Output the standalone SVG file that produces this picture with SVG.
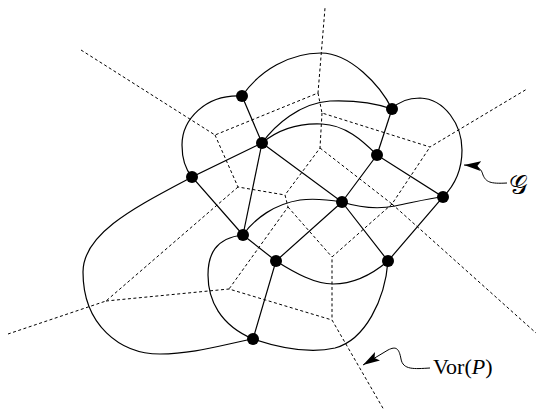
<svg xmlns="http://www.w3.org/2000/svg" width="536" height="410" viewBox="0 0 536 410">
<style>
.vor{fill:none;stroke:#000;stroke-width:1;stroke-dasharray:3 2.5}
.edge{fill:none;stroke:#000;stroke-width:1.2}
.node{fill:#000}
.lbl{font-family:"Liberation Serif","DejaVu Serif",serif;font-size:22px;fill:#000}
.ptr{fill:none;stroke:#000;stroke-width:1}
</style>
<defs>
<marker id="ah" viewBox="0 0 18 12" refX="17" refY="6" markerWidth="18" markerHeight="12" markerUnits="userSpaceOnUse" orient="auto">
<path d="M0,1 L17,6 L0,11 L3.5,6 Z" fill="#000"/>
</marker>
</defs>
<g id="voronoi">
<path class="vor" d="M81,50 L215,135 L318,93 L325,8"/>
<path class="vor" d="M318,93 L322,113 L430,147 L527,89"/>
<path class="vor" d="M322,113 L320,148 L285,195"/>
<path class="vor" d="M320,148 L392,204 L430,147"/>
<path class="vor" d="M392,204 L536,333"/>
<path class="vor" d="M392,204 L332,257 L332,320 L384,410"/>
<path class="vor" d="M215,135 L238,187 L285,195 L288,207 L229,289"/>
<path class="vor" d="M288,207 L332,257"/>
<path class="vor" d="M238,187 L106,301 L8,334"/>
<path class="vor" d="M106,301 L229,289 L332,320"/>
</g>
<g id="connectors">
<path class="edge" d="M242,96 C260,70 290,53 321,53 C350,53 380,85 392,109"/>
<path class="edge" d="M242,96 C205,94 182,120 182,145 C182,160 186,170 192,177"/>
<path class="edge" d="M262,143 C275,125 300,103 330,101 C358,100 378,104 392,109"/>
<path class="edge" d="M262,143 C280,128 300,123 322,124 C345,125 362,140 377,155"/>
<path class="edge" d="M392,109 C400,100 410,98 420,98 C445,99 462,125 462,150 C462,170 455,185 443,197"/>
<path class="edge" d="M342,202 C358,207 375,210 395,206 C415,202 430,198 443,197"/>
<path class="edge" d="M243,235 C255,218 275,204 300,200 C315,198 330,200 342,202"/>
<path class="edge" d="M276,261 C295,273 315,284 333,284 C355,284 375,272 388,261"/>
<path class="edge" d="M253,339 C280,348 310,354 335,348 C365,340 385,300 388,261"/>
<path class="edge" d="M243,235 C215,238 208,255 208,275 C208,300 220,325 253,339"/>
<path class="edge" d="M192,177 C140,205 83,232 83,272 C83,325 120,354 160,354 C195,354 225,344 253,339"/>
<path class="edge" d="M242,96 L262,143 L192,177 L243,235 L276,261 L253,339"/>
<path class="edge" d="M262,143 L243,235"/>
<path class="edge" d="M262,143 L342,202 L276,261"/>
<path class="edge" d="M342,202 L388,261 L443,197 L377,155 L342,202"/>
<path class="edge" d="M392,109 L377,155"/>
</g>
<g id="nodes">
<circle id="nA" class="node" cx="242" cy="96" r="6"/>
<circle id="nB" class="node" cx="392" cy="109" r="6"/>
<circle id="nC" class="node" cx="262" cy="143" r="6"/>
<circle id="nD" class="node" cx="377" cy="155" r="6"/>
<circle id="nE" class="node" cx="192" cy="177" r="6"/>
<circle id="nF" class="node" cx="342" cy="202" r="6"/>
<circle id="nG" class="node" cx="443" cy="197" r="6"/>
<circle id="nH" class="node" cx="243" cy="235" r="6"/>
<circle id="nI" class="node" cx="276" cy="261" r="6"/>
<circle id="nJ" class="node" cx="388" cy="261" r="6"/>
<circle id="nK" class="node" cx="253" cy="339" r="6"/>
</g>
<g id="label-G">
<path class="ptr" d="M507,183 C490,184 486,182 483,175 C481,169 480,166 464,165" marker-end="url(#ah)"/>
<text class="lbl" x="509" y="194" style="font-family:'DejaVu Serif','Noto Sans',serif;font-size:26px">𝒢</text>
</g>
<g id="label-Vor">
<path class="ptr" d="M430,368 C414,369 403,370 401,359 C399,348 396,346 388,350 L363,365" marker-end="url(#ah)"/>
<text class="lbl" x="433" y="374">Vor(<tspan font-style="italic">P</tspan>)</text>
</g>
</svg>
